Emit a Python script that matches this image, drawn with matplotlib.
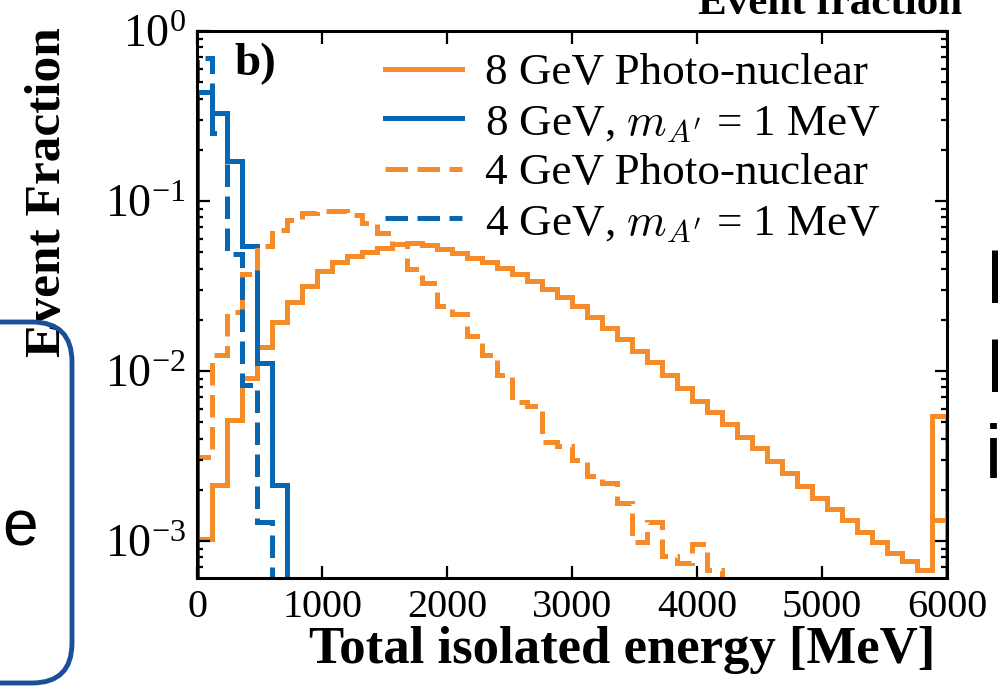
import numpy as np
import matplotlib
matplotlib.use("Agg")
import matplotlib.pyplot as plt
from matplotlib.patches import FancyBboxPatch
from matplotlib.lines import Line2D

plt.rcParams["font.family"] = "serif"
plt.rcParams["font.serif"] = ["Liberation Serif", "DejaVu Serif"]
plt.rcParams["mathtext.fontset"] = "cm"

# Histogram binning: 50 bins of 120 MeV between 0 and 6000 MeV
bin_edges = np.linspace(0, 6000, 51)

# Event fraction per bin
pn_8gev = [1.03e-3, 2.14e-3, 5.15e-3, 9.1e-3, 0.0138, 0.0193, 0.0256, 0.0315, 0.0385, 0.0438,
           0.0472, 0.0500, 0.0532, 0.0555, 0.0563, 0.0550, 0.0520, 0.0493, 0.0462, 0.0440,
           0.0405, 0.0372, 0.0340, 0.0305, 0.0272, 0.0240, 0.0207, 0.0180, 0.0155, 0.0131,
           0.0113, 0.0095, 0.0079, 0.0067, 5.74e-3, 4.9e-3, 4.1e-3, 3.5e-3, 2.95e-3, 2.5e-3,
           2.1e-3, 1.78e-3, 1.54e-3, 1.33e-3, 1.13e-3, 9.9e-4, 8.5e-4, 7.6e-4, 6.7e-4, 5.4e-3]
pn_8gev_last_edges = [5880, 6000]
pn_8gev_last_alt = [1.32e-3]

ap_8gev = [0.44, 0.33, 0.172, 0.054, 0.0111, 0.00214] + [0.0] * 44

pn_4gev = [3.1e-3, 0.0124, 0.0222, 0.037, 0.054, 0.0676, 0.077, 0.085, 0.087, 0.087,
           0.083, 0.074, 0.065, 0.056, 0.040, 0.033, 0.024, 0.0215, 0.016, 0.0124,
           0.0095, 0.0066, 0.0062, 0.0038, 0.0036, 0.0030, 0.0024, 0.0022, 0.00168, 0.00099,
           0.0013, 0.00082, 0.00074, 0.00096, 0.00067] + [0.0] * 15

ap_4gev = [0.69, 0.25, 0.049, 0.0083, 0.0013] + [0.0] * 45

labels = ["8 GeV Photo-nuclear",
          r"8 GeV, $m_{A^\prime}$ = 1 MeV",
          "4 GeV Photo-nuclear",
          r"4 GeV, $m_{A^\prime}$ = 1 MeV"]

x_ticks = [0, 1000, 2000, 3000, 4000, 5000, 6000]

ORANGE = "#F68B2A"
BLUE = "#0867B3"
LW = 3.6
DASH = (0, (4.5, 1.9))

fig = plt.figure(figsize=(9.98, 6.89), dpi=100)
ax = fig.add_axes([0.1974, 0.1611, 0.7515, 0.7939])

ax.stairs(pn_8gev, bin_edges, baseline=0, color=ORANGE, lw=LW)
ax.stairs(pn_8gev_last_alt, pn_8gev_last_edges, baseline=None, color=ORANGE, lw=LW)
ax.stairs(ap_8gev, bin_edges, baseline=0, color=BLUE, lw=LW)
ax.stairs(pn_4gev, bin_edges, baseline=0, color=ORANGE, lw=LW, ls=DASH)
ax.stairs(ap_4gev, bin_edges, baseline=0, color=BLUE, lw=LW, ls=DASH)

ax.set_yscale("log")
ax.set_xlim(0, 6000)
ax.set_ylim(6.05e-4, 1.0)
ax.set_xticks(x_ticks)
ax.set_xticklabels([str(t) for t in x_ticks])

for s in ax.spines.values():
    s.set_linewidth(2.2)
ax.tick_params(which="both", direction="in", top=True, right=True, width=1.6, pad=8)
ax.tick_params(axis="x", labelsize=29)
ax.tick_params(axis="y", labelsize=33)
ax.tick_params(which="major", length=9)
ax.tick_params(which="minor", length=4.5)
ax.tick_params(axis="x", which="minor", bottom=False, top=False)

ax.set_xlabel("Total isolated energy [MeV]", fontsize=38, fontweight="bold")
ax.xaxis.set_label_coords(0.567, -0.088)
ax.set_ylabel("Event Fraction", fontsize=37, fontweight="bold")
ax.yaxis.set_label_coords(-0.168, 0.706)

ax.text(0.05, 0.978, "b)", transform=ax.transAxes, fontsize=34, fontweight="bold",
        ha="left", va="top")

handles = [Line2D([], [], color=ORANGE, lw=LW),
           Line2D([], [], color=BLUE, lw=LW),
           Line2D([], [], color=ORANGE, lw=LW, ls=DASH),
           Line2D([], [], color=BLUE, lw=LW, ls=DASH)]
ax.legend(handles, labels, loc="upper left", bbox_to_anchor=(0.251, 0.960),
          frameon=False, fontsize=32.5, handlelength=1.7, handletextpad=0.5,
          labelspacing=0.2, borderpad=0, borderaxespad=0)

# Surrounding slide content
fig.text(0.832, 0.980, "Event fraction", fontsize=31, fontweight="bold",
         ha="center", va="baseline")
box = FancyBboxPatch((-0.5, 0.06), 1.22, 3.61, boxstyle="round,pad=0,rounding_size=0.4",
                     transform=fig.dpi_scale_trans, fill=False, ec="#1B4F9A", lw=3.5)
fig.add_artist(box)
fig.text(20 / 998, 1 - 545 / 689, "e", fontsize=46, family="Liberation Sans",
         ha="center", va="baseline")
for txt, base in zip(["I", "I", "i"], [303, 392, 478]):
    fig.text(985 / 998, 1 - base / 689, txt, fontsize=55, family="Liberation Sans",
             ha="left", va="baseline")

fig.savefig("out.png", dpi=100)
